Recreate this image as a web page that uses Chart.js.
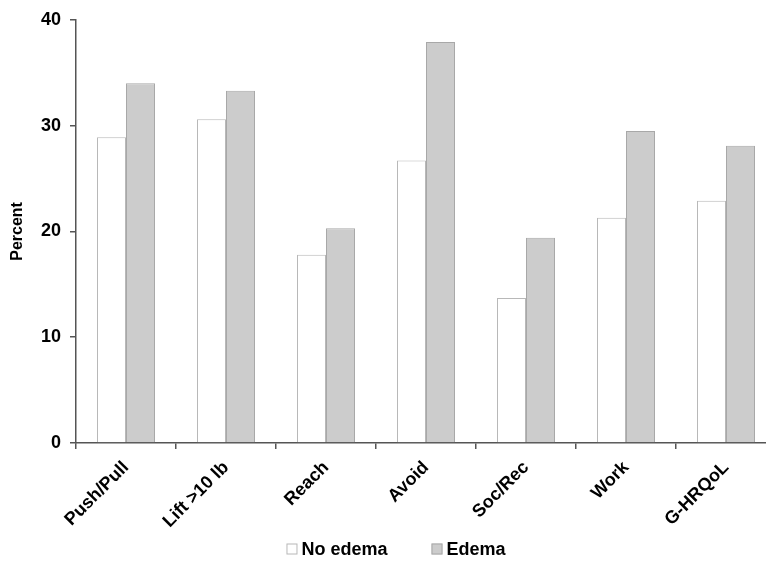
<!DOCTYPE html>
<html>
<head>
<meta charset="utf-8">
<script src="https://cdn.jsdelivr.net/npm/chart.js@4.4.0/dist/chart.umd.min.js"></script>
<style>
    html, body { margin: 0; padding: 0; background: #fff; overflow: hidden; }
    #wrap { width: 776px; height: 563px; }
</style>
</head>
<body>
<div id="wrap"><canvas id="chart"></canvas></div>
<script>
'use strict';

const categories = ['Push/Pull', 'Lift >10 lb', 'Reach', 'Avoid', 'Soc/Rec', 'Work', 'G-HRQoL'];
const noEdema = [28.9, 30.6, 17.8, 26.7, 13.7, 21.3, 22.9];
const edema = [34.0, 33.3, 20.3, 37.9, 19.4, 29.5, 28.1];
const yTicks = [0, 10, 20, 30, 40];

const FONT = 'Liberation Sans, Arial, sans-serif';

// legend drawn by hand: the built-in one ties item gap to vertical padding
const bottomLegend = {
    id: 'bottomLegend',
    afterDraw(chart) {
        const ctx = chart.ctx;
        const box = 11, gap = 4, itemGap = 44, y = 549, center = 396;
        ctx.save();
        ctx.font = 'bold 18px ' + FONT;
        ctx.textBaseline = 'middle';
        const items = chart.data.datasets.map(ds => ({ds, w: ctx.measureText(ds.label).width}));
        let total = items.reduce((s, it) => s + box + gap + it.w, 0) + itemGap * (items.length - 1);
        let x = center - total / 2;
        items.forEach(it => {
            ctx.fillStyle = it.ds.backgroundColor;
            ctx.strokeStyle = it.ds.borderColor;
            ctx.lineWidth = 1;
            ctx.fillRect(x, y - box / 2, box, box);
            ctx.strokeRect(x + 0.5, y - box / 2 + 0.5, box - 1, box - 1);
            ctx.fillStyle = '#000';
            ctx.fillText(it.ds.label, x + box + gap, y + 1);
            x += box + gap + it.w + itemGap;
        });
        ctx.restore();
    }
};

new Chart(document.getElementById('chart').getContext('2d'), {
    type: 'bar',
    data: {
        labels: categories,
        datasets: [
            {
                label: 'No edema',
                data: noEdema,
                backgroundColor: '#ffffff',
                borderColor: '#b8b8b8',
                borderWidth: 1,
                borderSkipped: 'bottom'
            },
            {
                label: 'Edema',
                data: edema,
                backgroundColor: '#cccccc',
                borderColor: '#a8a8a8',
                borderWidth: 1,
                borderSkipped: 'bottom'
            }
        ]
    },
    options: {
        responsive: true,
        maintainAspectRatio: false,
        animation: false,
        layout: {padding: {top: 4, left: 8, right: 0, bottom: 20}},
        datasets: {bar: {categoryPercentage: 0.58, barPercentage: 1.0}},
        plugins: {
            tooltip: {enabled: false},
            legend: {display: false}
        },
        scales: {
            x: {
                afterFit: function (scale) { scale.height = 100; },
                border: {color: '#555', width: 1.5},
                grid: {drawOnChartArea: false, tickLength: 6, color: '#555', lineWidth: 1.5},
                ticks: {
                    color: '#000',
                    maxRotation: 45,
                    minRotation: 45,
                    padding: 8,
                    font: {family: FONT, size: 18, weight: 'bold'}
                }
            },
            y: {
                min: 0,
                max: 40,
                afterBuildTicks: function (scale) { scale.ticks = yTicks.map(v => ({value: v})); },
                afterFit: function (scale) { scale.width = 68; },
                border: {color: '#555', width: 1.5},
                grid: {drawOnChartArea: false, tickLength: 6, color: '#555', lineWidth: 1.5},
                title: {
                    display: true,
                    text: 'Percent',
                    color: '#000',
                    font: {family: FONT, size: 16, weight: 'bold'},
                    padding: {top: 0, bottom: 4}
                },
                ticks: {
                    color: '#000',
                    padding: 9,
                    font: {family: FONT, size: 18, weight: 'bold'}
                }
            }
        }
    },
    plugins: [bottomLegend]
});
</script>
</body>
</html>
